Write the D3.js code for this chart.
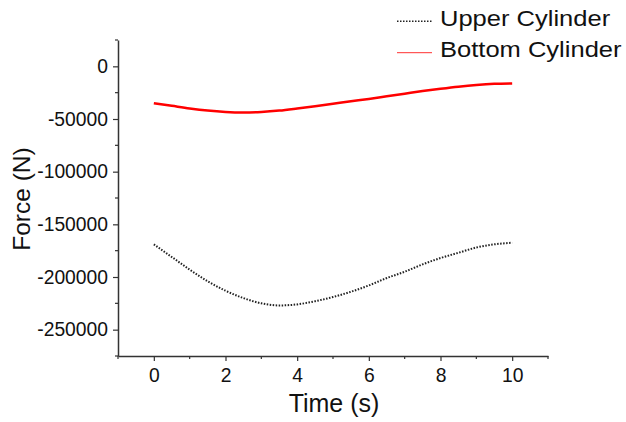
<!DOCTYPE html>
<html><head><meta charset="utf-8">
<script src="https://cdn.jsdelivr.net/npm/d3@7"></script>
<style>body{margin:0;background:#fff}svg{display:block}</style>
</head><body><svg id="c" width="626" height="422"></svg>
<script>
const time = [0,0.5,1,1.5,2,2.5,3,3.5,4,4.5,5,5.5,6,6.5,7,7.5,8,8.5,9,9.5,10];
const upperCylinder = [-169000,-181000,-193000,-204000,-213000,-220000,-225000,-227000,-226000,-223000,-219000,-214000,-208000,-201000,-195000,-188000,-182000,-177000,-172000,-169000,-167500];
const bottomCylinder = [-35000,-37500,-40000,-42000,-43300,-43800,-43300,-42000,-40000,-37800,-35500,-33200,-31000,-28500,-26000,-23500,-21300,-19300,-17700,-16600,-16200];
const xTicks = [0,2,4,6,8,10];
const yTicks = [0,-50000,-100000,-150000,-200000,-250000];
const seriesNames = ["Upper Cylinder","Bottom Cylinder"];

const svg = d3.select("#c");
const mLeft = 118, mRight = 548, mTop = 40, mBottom = 356;
const x = d3.scaleLinear().domain([-1, 11]).range([mLeft, mRight]);
const y = d3.scaleLinear().domain([-275000, 25000]).range([mBottom, mTop]);
const font = "Liberation Sans, Arial, sans-serif";
const axisColor = "#333";

// minor ticks
const xMinor = d3.range(-1, 12, 1).filter(v => v % 2 !== 0);
const yMinor = d3.range(-275000, 25001, 50000);
svg.append("g").selectAll("line").data(xMinor).join("line")
  .attr("x1", d => x(d)).attr("x2", d => x(d)).attr("y1", mBottom).attr("y2", mBottom + 3)
  .attr("stroke", axisColor).attr("stroke-width", 1.2);
svg.append("g").selectAll("line").data(yMinor).join("line")
  .attr("y1", d => y(d)).attr("y2", d => y(d)).attr("x1", mLeft).attr("x2", mLeft - 3)
  .attr("stroke", axisColor).attr("stroke-width", 1.2);

const fmt = d => String(d);
const xAxis = svg.append("g").attr("transform", `translate(0,${mBottom})`)
  .call(d3.axisBottom(x).tickValues(xTicks).tickSize(5).tickPadding(7).tickSizeOuter(0).tickFormat(fmt));
const yAxis = svg.append("g").attr("transform", `translate(${mLeft},0)`)
  .call(d3.axisLeft(y).tickValues(yTicks).tickSize(5).tickPadding(5).tickSizeOuter(0).tickFormat(fmt));
[xAxis, yAxis].forEach(g => {
  g.select(".domain").attr("stroke", axisColor).attr("stroke-width", 1.5);
  g.selectAll(".tick line").attr("stroke", axisColor).attr("stroke-width", 1.2);
  g.selectAll("text").attr("font-family", font).attr("font-size", 19.3).attr("fill", "#111");
});

const line = d3.line().x((d, i) => x(time[i])).y(d => y(d)).curve(d3.curveMonotoneX);
svg.append("path").datum(upperCylinder).attr("d", line).attr("fill", "none")
  .attr("stroke", "#222").attr("stroke-width", 2).attr("stroke-dasharray", "1.5,1.5");
svg.append("path").datum(bottomCylinder).attr("d", line).attr("fill", "none")
  .attr("stroke", "#ff0000").attr("stroke-width", 2.5);

// axis titles
svg.append("text").attr("x", 334).attr("y", 412).attr("text-anchor", "middle")
  .attr("font-family", font).attr("font-size", 25).attr("fill", "#111").text("Time (s)");
svg.append("text").attr("transform", "translate(30,199) rotate(-90)").attr("text-anchor", "middle")
  .attr("font-family", font).attr("font-size", 24.5).attr("fill", "#111").text("Force (N)");

// legend
const leg = [{name: seriesNames[0], base: 26, ly: 21.3, dash: "1.5,1.5", color: "#222", w: 1.5},
             {name: seriesNames[1], base: 57, ly: 52.7, dash: null, color: "#ff3030", w: 1}];
leg.forEach(l => {
  svg.append("line").attr("x1", 397).attr("x2", 432).attr("y1", l.ly).attr("y2", l.ly)
    .attr("stroke", l.color).attr("stroke-width", l.w).attr("stroke-dasharray", l.dash);
  svg.append("text").attr("transform", `translate(440,${l.base}) scale(1.12,1)`).attr("font-family", font)
    .attr("font-size", 22.8).attr("fill", "#111").text(l.name);
});
</script></body></html>
